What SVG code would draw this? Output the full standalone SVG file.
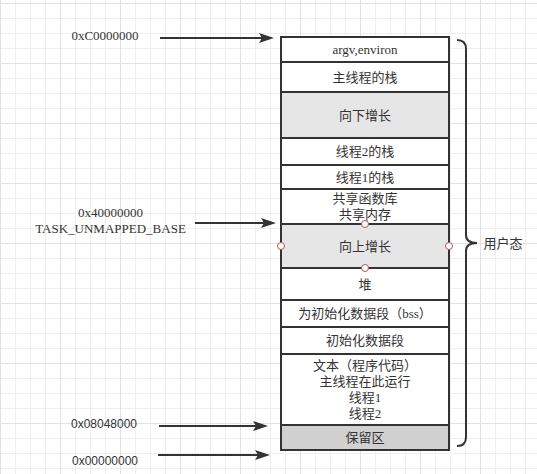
<svg xmlns="http://www.w3.org/2000/svg" width="537" height="474" viewBox="0 0 537 474">
<style>
.row{stroke:#333;stroke-width:2;fill:#fff}
.g1{fill:#e6e6e6}
.g2{fill:#d0d0d0}
.t{font-family:"Liberation Serif","Noto Sans CJK SC",serif;font-size:13px;fill:#333;text-anchor:middle;dominant-baseline:central}
.ts{font-family:"Liberation Sans","Noto Sans CJK SC",sans-serif;font-size:12px;fill:#333;text-anchor:middle;dominant-baseline:central}
.c{stroke:#333;stroke-width:2;fill:none}
.pt{fill:#fff;stroke:#b85450;stroke-width:1}
</style>
<defs>
<pattern id="grid" patternUnits="userSpaceOnUse" x="0" y="3" width="60" height="60">
<path d="M15.5,0V60M30.5,0V60M45.5,0V60M0,15.5H60M0,30.5H60M0,45.5H60" stroke="#efefef" stroke-width="1"/>
<path d="M0.5,0V60M0,0.5H60" stroke="#e2e2e2" stroke-width="1"/>
</pattern>
<marker id="arr" markerUnits="userSpaceOnUse" markerWidth="16" markerHeight="12" viewBox="0 0 16 12" refX="11" refY="6" orient="auto">
<path d="M0,1 L15,6 L0,11 L3,6 Z" fill="#333"/>
</marker>
</defs>
<rect width="537" height="474" fill="#fff"/>
<rect width="537" height="474" fill="url(#grid)"/>

<g id="connectors">
<line class="c" x1="160" y1="38" x2="270" y2="38" marker-end="url(#arr)"/>
<line class="c" x1="195" y1="223" x2="272" y2="223" marker-end="url(#arr)"/>
<line class="c" x1="159" y1="426" x2="264" y2="426" marker-end="url(#arr)"/>
<line class="c" x1="158" y1="455" x2="266" y2="455" marker-end="url(#arr)"/>
</g>

<g id="label-c0">
<text class="t" x="105" y="35">0xC0000000</text>
</g>
<g id="label-40">
<text class="t" x="110.5" y="212">0x40000000</text>
<text class="t" x="110.5" y="228">TASK_UNMAPPED_BASE</text>
</g>
<g id="label-08">
<text class="ts" x="104" y="424">0x08048000</text>
</g>
<g id="label-00">
<text class="ts" x="105" y="461">0x00000000</text>
</g>

<g id="row-argv">
<rect class="row" x="281" y="37" width="168" height="25"/>
<text class="t" x="365" y="49.5">argv,environ</text>
</g>
<g id="row-mainstack">
<rect class="row" x="281" y="62" width="168" height="30"/>
<text class="t" x="365" y="77">主线程的栈</text>
</g>
<g id="row-down">
<rect class="row g1" x="281" y="92" width="168" height="46"/>
<text class="t" x="365" y="115">向下增长</text>
</g>
<g id="row-t2stack">
<rect class="row" x="281" y="138" width="168" height="27"/>
<text class="t" x="365" y="151.5">线程2的栈</text>
</g>
<g id="row-t1stack">
<rect class="row" x="281" y="165" width="168" height="24"/>
<text class="t" x="365" y="177">线程1的栈</text>
</g>
<g id="row-shared">
<rect class="row" x="281" y="189" width="168" height="35"/>
<text class="t" x="365" y="198.5">共享函数库</text>
<text class="t" x="365" y="214.5">共享内存</text>
</g>
<g id="row-heap">
<rect class="row" x="281" y="268" width="168" height="32"/>
<text class="t" x="365" y="284">堆</text>
</g>
<g id="row-bss">
<rect class="row" x="281" y="300" width="168" height="27"/>
<text class="t" x="365" y="313.5">为初始化数据段（bss）</text>
</g>
<g id="row-data">
<rect class="row" x="281" y="327" width="168" height="27"/>
<text class="t" x="365" y="340.5">初始化数据段</text>
</g>
<g id="row-text">
<rect class="row" x="281" y="354" width="168" height="71"/>
<text class="t" x="365" y="365.5">文本（程序代码）</text>
<text class="t" x="365" y="381.5">主线程在此运行</text>
<text class="t" x="365" y="397.5">线程1</text>
<text class="t" x="365" y="413.5">线程2</text>
</g>
<g id="row-reserved">
<rect class="row g2" x="281" y="425" width="168" height="25"/>
<text class="t" x="365" y="437.5">保留区</text>
</g>
<g id="row-up">
<rect class="row g1" x="281" y="224" width="168" height="44"/>
<text class="t" x="365" y="246">向上增长</text>
<circle class="pt" cx="365" cy="224" r="3.5"/>
<circle class="pt" cx="281" cy="246" r="3.5"/>
<circle class="pt" cx="449" cy="246" r="3.5"/>
<circle class="pt" cx="365" cy="268" r="3.5"/>
</g>

<g id="brace-user">
<path class="c" d="M457,40 Q466,40 466,49 L466,235 Q466,243 477,243 Q466,243 466,251 L466,437 Q466,446 457,446"/>
<text class="t" x="503" y="243">用户态</text>
</g>
</svg>
